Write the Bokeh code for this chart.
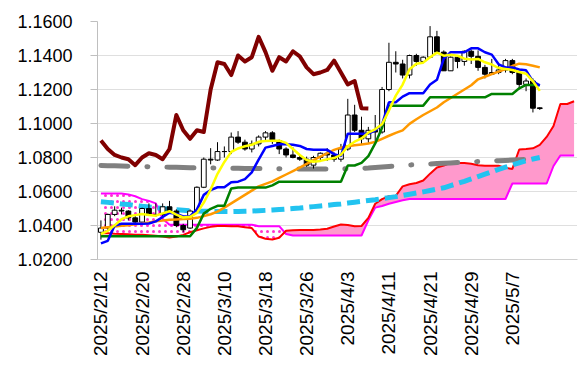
import numpy as np
from bokeh.plotting import figure
from bokeh.models import Range1d, FixedTicker, NumeralTickFormatter
from bokeh.embed import file_html
from bokeh.resources import INLINE
import math

dates = ["2025/2/12","2025/2/13","2025/2/14","2025/2/17","2025/2/18","2025/2/19","2025/2/20","2025/2/21",
         "2025/2/24","2025/2/25","2025/2/26","2025/2/27","2025/2/28","2025/3/3","2025/3/4","2025/3/5",
         "2025/3/6","2025/3/7","2025/3/10","2025/3/11","2025/3/12","2025/3/13","2025/3/14","2025/3/17",
         "2025/3/18","2025/3/19","2025/3/20","2025/3/21","2025/3/24","2025/3/25","2025/3/26","2025/3/27",
         "2025/3/28","2025/3/31","2025/4/1","2025/4/2","2025/4/3","2025/4/4","2025/4/7","2025/4/8",
         "2025/4/9","2025/4/10","2025/4/11","2025/4/14","2025/4/15","2025/4/16","2025/4/17","2025/4/18",
         "2025/4/21","2025/4/22","2025/4/23","2025/4/24","2025/4/25","2025/4/28","2025/4/29","2025/4/30",
         "2025/5/1","2025/5/2","2025/5/5","2025/5/6","2025/5/7","2025/5/8","2025/5/9","2025/5/12","2025/5/13"]

open_ = [1.0360,1.0385,1.0465,1.0490,1.0485,1.0445,1.0420,1.0500,1.0460,1.0465,
         1.0510,1.0485,1.0400,1.0385,1.0485,1.0625,1.0790,1.0785,1.0835,1.0835,
         1.0920,1.0890,1.0850,1.0880,1.0920,1.0945,1.0900,1.0850,1.0815,1.0800,
         1.0790,1.0755,1.0800,1.0825,1.0815,1.0790,1.0850,1.1050,1.0960,1.0910,
         1.0960,1.0950,1.1200,1.1360,1.1350,1.1285,1.1400,1.1365,1.1390,1.1510,
         1.1420,1.1310,1.1390,1.1365,1.1425,1.1395,1.1330,1.1290,1.1300,1.1315,
         1.1370,1.1300,1.1230,1.1250,1.1092]
high = [1.0430,1.0470,1.0513,1.0505,1.0490,1.0455,1.0505,1.0530,1.0530,1.0530,
        1.0545,1.0495,1.0410,1.0495,1.0630,1.0800,1.0855,1.0890,1.0865,1.0947,
        1.0955,1.0905,1.0900,1.0930,1.0955,1.0955,1.0905,1.0860,1.0860,1.0815,
        1.0805,1.0810,1.0830,1.0855,1.0830,1.0880,1.1145,1.1110,1.1040,1.0980,
        1.1050,1.1215,1.1475,1.1425,1.1375,1.1405,1.1410,1.1395,1.1573,1.1545,
        1.1430,1.1395,1.1395,1.1430,1.1435,1.1430,1.1345,1.1380,1.1345,1.1380,
        1.1380,1.1310,1.1265,1.1265,1.1095]
low = [1.0317,1.0370,1.0455,1.0465,1.0430,1.0405,1.0410,1.0460,1.0450,1.0450,
       1.0475,1.0390,1.0360,1.0380,1.0470,1.0620,1.0760,1.0780,1.0800,1.0820,
       1.0880,1.0840,1.0830,1.0865,1.0900,1.0880,1.0820,1.0800,1.0795,1.0780,
       1.0745,1.0735,1.0780,1.0780,1.0775,1.0775,1.0840,1.0950,1.0880,1.0880,
       1.0885,1.0940,1.1190,1.1300,1.1265,1.1265,1.1340,1.1355,1.1385,1.1410,
       1.1310,1.1310,1.1325,1.1340,1.1350,1.1310,1.1265,1.1290,1.1290,1.1300,
       1.1290,1.1200,1.1190,1.1065,1.1080]
close = [1.0385,1.0465,1.0490,1.0485,1.0445,1.0420,1.0500,1.0460,1.0465,1.0510,
         1.0485,1.0400,1.0375,1.0485,1.0625,1.0790,1.0785,1.0835,1.0835,1.0920,
         1.0890,1.0850,1.0880,1.0920,1.0945,1.0900,1.0850,1.0815,1.0800,1.0790,
         1.0755,1.0800,1.0825,1.0815,1.0790,1.0850,1.1050,1.0960,1.0910,1.0960,
         1.0950,1.1200,1.1360,1.1350,1.1285,1.1400,1.1365,1.1390,1.1510,1.1420,
         1.1310,1.1390,1.1365,1.1425,1.1395,1.1330,1.1290,1.1300,1.1315,1.1370,
         1.1300,1.1230,1.1250,1.1090,1.1088]

tenkan = [1.0295,1.0310,1.0400,1.0410,1.0410,1.0410,1.0410,1.0412,1.0424,1.0450,
          1.0475,1.0468,1.0453,1.0453,1.0495,1.0580,1.0608,1.0625,1.0625,1.0654,
          1.0658,1.0673,1.0713,1.0788,1.0858,1.0868,1.0878,1.0878,1.0875,1.0868,
          1.0850,1.0845,1.0845,1.0845,1.0820,1.0808,1.0940,1.0940,1.0940,1.0940,
          1.0960,1.0995,1.1125,1.1125,1.1158,1.1178,1.1178,1.1178,1.1229,1.1257,
          1.1382,1.1419,1.1419,1.1419,1.1442,1.1442,1.1419,1.1405,1.1348,1.1330,
          1.1330,1.1318,1.1313,1.1248,1.1223]
kijun = [1.0337,1.0337,1.0337,1.0337,1.0337,1.0337,1.0337,1.0337,1.0337,1.0337,
         1.0337,1.0337,1.0337,1.0337,1.0386,1.0470,1.0498,1.0516,1.0516,1.0618,
         1.0623,1.0623,1.0623,1.0623,1.0623,1.0636,1.0658,1.0658,1.0658,1.0658,
         1.0658,1.0658,1.0658,1.0658,1.0658,1.0658,1.0753,1.0753,1.0768,1.0808,
         1.0883,1.0975,1.1105,1.1105,1.1105,1.1105,1.1105,1.1105,1.1154,1.1154,
         1.1154,1.1154,1.1154,1.1154,1.1154,1.1154,1.1154,1.1174,1.1174,1.1174,
         1.1174,1.1207,1.1227,1.1227,1.1227]
ma_short = [1.0350,1.0369,1.0401,1.0437,1.0454,1.0461,1.0468,1.0462,1.0458,1.0471,
            1.0484,1.0464,1.0447,1.0451,1.0474,1.0535,1.0612,1.0704,1.0774,1.0833,
            1.0853,1.0866,1.0875,1.0892,1.0897,1.0899,1.0899,1.0886,1.0850,1.0815,
            1.0785,1.0775,1.0780,1.0790,1.0797,1.0816,1.0866,1.0893,1.0912,1.0946,
            1.0966,1.0996,1.1076,1.1164,1.1229,1.1319,1.1352,1.1358,1.1390,1.1417,
            1.1399,1.1404,1.1399,1.1381,1.1376,1.1380,1.1360,1.1347,1.1326,1.1321,
            1.1315,1.1303,1.1293,1.1248,1.1192]
ma_mid = [1.0385,1.0390,1.0394,1.0398,1.0402,1.0407,1.0412,1.0418,1.0425,1.0430,
          1.0434,1.0436,1.0438,1.0440,1.0445,1.0455,1.0466,1.0482,1.0505,1.0530,
          1.0555,1.0580,1.0605,1.0630,1.0645,1.0660,1.0680,1.0700,1.0720,1.0740,
          1.0762,1.0785,1.0805,1.0825,1.0845,1.0858,1.0866,1.0872,1.0877,1.0882,
          1.0892,1.0910,1.0928,1.0945,1.0960,1.0998,1.1025,1.1050,1.1072,1.1094,
          1.1125,1.1150,1.1175,1.1200,1.1225,1.1260,1.1275,1.1290,1.1305,1.1320,
          1.1338,1.1352,1.1348,1.1340,1.1330]
ma_long = [1.0540,1.0536,1.0532,1.0527,1.0523,1.0518,1.0513,1.0509,1.0505,1.0500,
           1.0496,1.0493,1.0490,1.0487,1.0485,1.0484,1.0483,1.0482,1.0482,1.0482,
           1.0483,1.0484,1.0485,1.0487,1.0489,1.0491,1.0494,1.0497,1.0500,1.0503,
           1.0507,1.0511,1.0515,1.0519,1.0523,1.0527,1.0532,1.0537,1.0542,1.0547,
           1.0552,1.0558,1.0564,1.0570,1.0577,1.0584,1.0591,1.0598,1.0606,1.0614,
           1.0622,1.0635,1.0647,1.0660,1.0674,1.0688,1.0702,1.0716,1.0730,1.0743,
           1.0756,1.0769,1.0781,1.0791,1.0800]
ma_200 = [1.0753,1.0752,1.0751,1.0750,1.0749,1.0748,1.0747,1.0746,1.0745,1.0744,
          1.0743,1.0742,1.0741,1.0740,1.0740,1.0739,1.0739,1.0738,1.0738,1.0737,
          1.0737,1.0736,1.0736,1.0735,1.0735,1.0734,1.0734,1.0733,1.0733,1.0733,
          1.0733,1.0733,1.0733,1.0733,1.0733,1.0734,1.0734,1.0735,1.0736,1.0738,
          1.0741,1.0744,1.0747,1.0750,1.0753,1.0756,1.0758,1.0760,1.0762,1.0764,
          1.0766,1.0768,1.0770,1.0772,1.0774,1.0776,1.0778,1.0780,1.0781,1.0783,
          1.0785,1.0787,1.0789,1.0791,1.0794]
span_a = [1.0355,1.0355,1.0352,1.0350,1.0348,1.0346,1.0345,1.0343,1.0340,1.0335,
          1.0330,1.0335,1.0345,1.0360,1.0372,1.0383,1.0392,1.0397,1.0397,1.0396,
          1.0395,1.0390,1.0385,1.0335,1.0322,1.0318,1.0328,1.0369,1.0372,1.0373,
          1.0374,1.0374,1.0376,1.0381,1.0394,1.0406,1.0403,1.0395,1.0397,1.0445,
          1.0528,1.0555,1.0572,1.0575,1.0630,1.0643,1.0650,1.0665,1.0705,1.0741,
          1.0752,1.0768,1.0768,1.0767,1.0763,1.0754,1.0752,1.0752,1.0752,1.0739,
          1.0733,1.0847,1.0850,1.0854,1.0874,1.0921,1.0985,1.1115,1.1115,1.1131]
span_b = [1.0588,1.0588,1.0588,1.0588,1.0583,1.0572,1.0555,1.0545,1.0530,1.0440,
          1.0405,1.0405,1.0405,1.0405,1.0405,1.0405,1.0405,1.0405,1.0405,1.0405,
          1.0405,1.0405,1.0405,1.0396,1.0396,1.0396,1.0396,1.0350,1.0341,1.0341,
          1.0341,1.0341,1.0341,1.0341,1.0341,1.0341,1.0341,1.0341,1.0341,1.0430,
          1.0505,1.0515,1.0528,1.0538,1.0548,1.0556,1.0556,1.0556,1.0556,1.0556,
          1.0556,1.0556,1.0556,1.0556,1.0556,1.0556,1.0556,1.0556,1.0556,1.0556,
          1.0647,1.0647,1.0647,1.0647,1.0647,1.0647,1.0750,1.0812,1.0812,1.0812]

CHIKOU_SHIFT = 25
y_ticks = [1.02, 1.04, 1.06, 1.08, 1.10, 1.12, 1.14, 1.16]
label_step = 6

n = len(close)
n_all = len(span_a)
xs = list(range(n))

p = figure(width=578, height=377, x_range=Range1d(-0.5, n_all - 0.5),
           y_range=Range1d(1.02, 1.16), output_backend="svg", toolbar_location=None,
           min_border_left=97, min_border_right=1, min_border_top=21, min_border_bottom=118)
p.outline_line_color = None
p.background_fill_color = "white"
p.border_fill_color = "white"

# cloud with crossing points inserted
cx, ca, cb = [], [], []
for i in range(n_all):
    if i > 0:
        d0 = span_a[i-1] - span_b[i-1]
        d1 = span_a[i] - span_b[i]
        if d0 * d1 < 0:
            t = d0 / (d0 - d1)
            yc = span_a[i-1] + t * (span_a[i] - span_a[i-1])
            cx.append(i - 1 + t); ca.append(yc); cb.append(yc)
    cx.append(i); ca.append(span_a[i]); cb.append(span_b[i])
ca = np.array(ca); cb = np.array(cb)
p.varea(x=cx, y1=cb, y2=np.maximum(ca, cb), fill_color="#FF99CC")
p.varea(x=cx, y1=ca, y2=np.maximum(ca, cb), fill_color="white",
        hatch_pattern="dot", hatch_color="#FF33CC", hatch_scale=6, hatch_weight=1.5)
p.line(list(range(n_all)), span_b, line_color="#FF00FF", line_width=2)
p.line(list(range(n_all)), span_a, line_color="#FF0000", line_width=2)

# long moving averages
p.line(xs, ma_200, line_color="#808080", line_width=5, line_dash="27 19 1 19", line_cap="round")
p.line(xs, ma_long, line_color="#22C3F0", line_width=5, line_dash="13 6")

# candles
up = [i for i in xs if close[i] >= open_[i]]
dn = [i for i in xs if close[i] < open_[i]]
p.segment(x0=xs, y0=low, x1=xs, y1=high, line_color="black", line_width=1)
p.vbar(x=up, bottom=[open_[i] for i in up], top=[close[i] for i in up], width=0.7,
       fill_color="white", line_color="black", line_width=1)
p.vbar(x=dn, bottom=[close[i] for i in dn], top=[open_[i] for i in dn], width=0.7,
       fill_color="black", line_color="black", line_width=1)

p.line(xs, ma_mid, line_color="#FF9900", line_width=2.5)
p.line(xs, kijun, line_color="#008000", line_width=2.5)
p.line(xs, tenkan, line_color="#0000FF", line_width=2.5)
p.line(xs, ma_short, line_color="#FFFF00", line_width=2.5)
p.line(list(range(n - CHIKOU_SHIFT)), close[CHIKOU_SHIFT:], line_color="#800000",
       line_width=4, line_join="round")

# axes
p.xgrid.visible = False
p.ygrid.grid_line_color = "#BFBFBF"
p.ygrid.grid_line_dash = "1 1"
p.yaxis.ticker = FixedTicker(ticks=y_ticks)
p.yaxis.formatter = NumeralTickFormatter(format="0.0000")
p.yaxis.major_label_text_font = "Liberation Sans"
p.yaxis.major_label_text_font_size = "18px"
p.yaxis.major_label_text_color = "black"
p.yaxis.axis_line_color = "#BFBFBF"
p.yaxis.major_tick_line_color = "#BFBFBF"
p.yaxis.major_tick_out = 7
p.yaxis.major_tick_in = 0
p.yaxis.minor_tick_line_color = None
p.yaxis.major_label_standoff = 18

tick_idx = list(range(0, n, label_step))
p.xaxis.ticker = FixedTicker(ticks=tick_idx)
p.xaxis.major_label_overrides = {i: dates[i] for i in tick_idx}
p.xaxis.major_label_orientation = math.pi / 2
p.xaxis.major_label_text_font = "Liberation Sans"
p.xaxis.major_label_text_font_size = "19px"
p.xaxis.major_label_text_color = "black"
p.xaxis.axis_line_color = "#D0D0D0"
p.xaxis.major_tick_line_color = None
p.xaxis.minor_tick_line_color = None
p.xaxis.major_tick_out = 0
p.xaxis.major_label_standoff = 12

open("out.html", "w").write(file_html(p, INLINE))
